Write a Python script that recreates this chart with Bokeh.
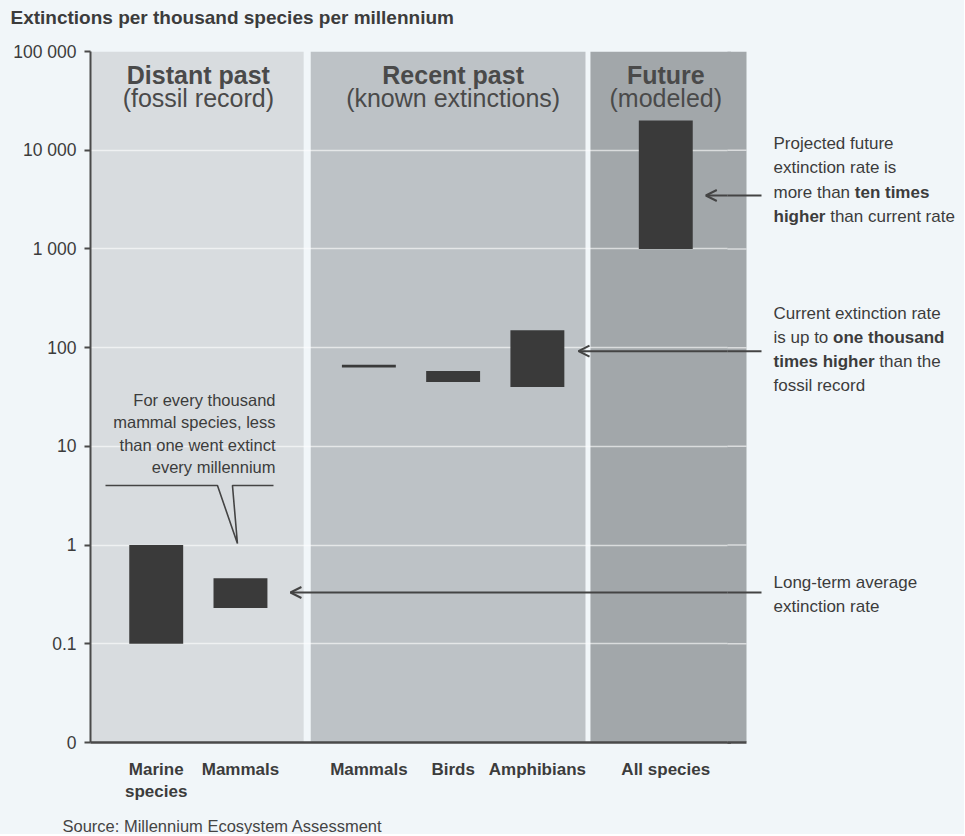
from bokeh.plotting import figure
from bokeh.layouts import row, column
from bokeh.models import FactorRange, Range1d, FixedTicker, Label, Arrow, OpenHead, ColumnDataSource
from bokeh.core.properties import value
from bokeh.embed import file_html
from bokeh.resources import INLINE

# ---------------- data ----------------
groups = ["Distant past", "Recent past", "Future"]
group_subtitles = ["(fossil record)", "(known extinctions)", "(modeled)"]
bar_groups = ["Distant past", "Distant past", "Recent past", "Recent past", "Recent past", "Future"]
bar_names = ["Marine\nspecies", "Mammals", "Mammals", "Birds", "Amphibians", "All species"]
rate_low = [0.1, 0.23, 63, 45, 40, 1000]
rate_high = [1.0, 0.46, 67, 58, 150, 20000]
tick_values = [0.01, 0.1, 1, 10, 100, 1000, 10000, 100000]
tick_labels = ["0", "0.1", "1", "10", "100", "1 000", "10 000", "100 000"]

title_text = "Extinctions per thousand species per millennium"
source_text = "Source: Millennium Ecosystem Assessment"
callout_lines = ["For every thousand", "mammal species, less", "than one went extinct", "every millennium"]
note_future = [[("Projected future", False)], [("extinction rate is", False)],
               [("more than ", False), ("ten times", True)],
               [("higher ", True), ("than current rate", False)]]
note_current = [[("Current extinction rate", False)], [("is up to ", False), ("one thousand", True)],
                [("times higher ", True), ("than the", False)], [("fossil record", False)]]
note_longterm = [[("Long-term average", False)], [("extinction rate", False)]]

# ---------------- style / layout ----------------
BG = "#f1f6f9"
PANEL_COLORS = ["#d8dcdf", "#bdc2c6", "#a2a7aa"]
BAR = "#3a3a3a"
TXT = "#3c3c3c"
LINE = "#444444"
FONT = "Liberation Sans"
PAGE_W = 964
HEADER_H, FOOTER_H = 32, 26
FRAME_TOP = 51                      # page row of the 100 000 line
TOP = FRAME_TOP - HEADER_H
FRAME_H, BOTTOM = 691, 66
LEFT, FRAME_W = 90, 641
OVERLAP = 4
NOTES_W = PAGE_W - LEFT - FRAME_W   # visible width of the notes strip
NOTES_FW = NOTES_W + OVERLAP - 8


def ypx(page_y):
    """vertical layout helper: page pixel row -> log-axis value"""
    return 10 ** (5 - (page_y - FRAME_TOP) / (FRAME_H / 7.0))


REG = dict(zip(" abcdefghijklmnopqrstuvwxyz-,", [278, 556, 556, 500, 556, 556, 278, 556, 556, 222, 222, 500, 222, 833,
                                                 556, 556, 556, 556, 333, 500, 278, 556, 500, 722, 500, 500, 500, 333, 278]))
BOLD = dict(zip(" abcdefghijklmnopqrstuvwxyz-,", [278, 556, 611, 556, 611, 556, 333, 611, 611, 278, 278, 556, 278, 889,
                                                  611, 611, 611, 611, 389, 556, 333, 611, 556, 778, 556, 556, 500, 333, 278]))


def text_w(s, size, bold=False):
    t = BOLD if bold else REG
    return sum(t.get(c, 600) for c in s) * size / 1000.0


def plain_fig(w, h, xr, yr, **kw):
    f = figure(frame_width=w, frame_height=h, x_range=xr, y_range=yr, min_border=0,
               x_axis_location=None, y_axis_location=None, output_backend="svg", toolbar_location=None,
               background_fill_color=BG, border_fill_color=BG, outline_line_color=None, **kw)
    f.grid.grid_line_color = None
    return f


# ================= header (title) =================
header = plain_fig(PAGE_W, HEADER_H, Range1d(0, PAGE_W), Range1d(HEADER_H, 0))
header.text(x=[10], y=[17], text=[title_text], text_baseline="middle", text_font=value(FONT),
            text_font_style="bold", text_font_size="19px", text_color=TXT)

factors = list(zip(bar_groups, bar_names))

# ================= main chart =================
p = figure(x_range=FactorRange(*factors, factor_padding=0, group_padding=0.524,
                               range_padding=0.28, range_padding_units="absolute"),
           y_axis_type="log", y_range=Range1d(0.01, 100000),
           frame_width=FRAME_W, frame_height=FRAME_H,
           min_border_left=LEFT, min_border_right=0, min_border_top=TOP, min_border_bottom=BOTTOM,
           output_backend="svg", toolbar_location=None,
           background_fill_color=BG, border_fill_color=BG, outline_line_color=None)
p.title.text = ""

# panels
p.quad(left=[("Distant past", "Marine\nspecies", -1.2), ("Recent past", "Mammals", -0.69), ("Future", "All species", -0.894)],
       right=[("Distant past", "Mammals", 0.75), ("Recent past", "Amphibians", 0.571), ("Future", "All species", 1.5)],
       bottom=0.01, top=100000, fill_color=PANEL_COLORS, line_color=None, level="image")

# bars
p.vbar(x=factors, bottom=rate_low, top=rate_high, width=0.64, fill_color=BAR, line_color=None)

# panel titles
p.text(x=groups, y=[ypx(74)] * 3, text=groups, text_align="center", text_baseline="middle",
       text_font=value(FONT), text_font_style="bold", text_font_size="25px", text_color="#4a4a4a")
p.text(x=groups, y=[ypx(97)] * 3, text=group_subtitles, text_align="center", text_baseline="middle",
       text_font=value(FONT), text_font_size="25px", text_color="#4a4a4a")

# callout bubble
p.line(x=[("Distant past", "Marine\nspecies", -0.602), ("Distant past", "Mammals", -0.273),
          ("Distant past", "Mammals", -0.036), ("Distant past", "Mammals", -0.095), ("Distant past", "Mammals", 0.392)],
       y=[ypx(485), ypx(485), ypx(543), ypx(485), ypx(485)], line_color=LINE, line_width=1.6)
for t, ry in zip(callout_lines, [399, 421, 444, 466]):
    p.add_layout(Label(x=275 - LEFT, x_units="screen", y=ypx(ry), text=t, text_align="right", text_baseline="middle",
                       text_font=FONT, text_font_size="16.5px", text_color=TXT))

# arrows (the part inside the chart frame)
arrow_rows = [195, 350.7, 592]
arrow_src = ColumnDataSource(dict(
    x0=[("Future", "All species", 1.6)] * 3,
    x1=[("Future", "All species", 0.475), ("Recent past", "Amphibians", 0.488), ("Distant past", "Mammals", 0.593)],
    y0=[ypx(r) for r in arrow_rows],
    y1=[ypx(r) for r in arrow_rows]))
p.add_layout(Arrow(source=arrow_src, x_start="x0", y_start="y0", x_end="x1", y_end="y1",
                   line_color=LINE, line_width=2,
                   end=OpenHead(size=11, line_width=2, line_color=LINE)))

# axes
p.yaxis.ticker = FixedTicker(ticks=tick_values, minor_ticks=[])
p.yaxis.major_label_overrides = {float(v): l for v, l in zip(tick_values, tick_labels)}
p.yaxis.major_label_text_font = FONT
p.yaxis.major_label_text_font_size = "17.5px"
p.yaxis.major_label_text_color = TXT
p.yaxis.axis_line_color = "#4a4a4a"
p.yaxis.axis_line_width = 2
p.yaxis.major_tick_line_color = "#4a4a4a"
p.yaxis.major_tick_line_width = 2
p.yaxis.major_tick_out = 6
p.yaxis.major_tick_in = 0
p.yaxis.minor_tick_line_color = None
p.yaxis.major_label_standoff = 8

p.xaxis.axis_line_color = "#4a4a4a"
p.xaxis.axis_line_width = 2.5
p.xaxis.major_tick_line_color = None
p.xaxis.minor_tick_line_color = None
p.xaxis.major_label_text_font = FONT
p.xaxis.major_label_text_font_style = "bold"
p.xaxis.major_label_text_font_size = "17px"
p.xaxis.major_label_text_color = TXT
p.xaxis.major_label_standoff = 11
p.xaxis.group_text_color = None
p.xaxis.group_text_font_size = "1px"
p.xaxis.separator_line_color = None

p.xgrid.grid_line_color = None
p.ygrid.grid_line_color = "white"
p.ygrid.grid_line_alpha = 0.6
p.ygrid.grid_line_width = 1.5

# ================= notes strip (right, transparent so it blends with the chart) =================
n = figure(x_range=Range1d(-OVERLAP, NOTES_FW - OVERLAP), y_axis_type="log", y_range=Range1d(0.01, 100000),
           frame_width=NOTES_FW, frame_height=FRAME_H,
           min_border_left=0, min_border_right=0, min_border_top=TOP, min_border_bottom=BOTTOM,
           output_backend="svg", toolbar_location=None, y_axis_location=None,
           background_fill_color=None, border_fill_color=None, outline_line_color=None,
           styles={"margin-left": f"-{OVERLAP}px"})
n.grid.grid_line_color = None
PANEL_TAIL = 15     # continuation of the "Future" panel
n.xaxis.bounds = (-OVERLAP, PANEL_TAIL)
n.xaxis.axis_line_color = "#4a4a4a"
n.xaxis.axis_line_width = 2.5
n.xaxis.major_tick_line_color = None
n.xaxis.minor_tick_line_color = None
n.xaxis.major_label_text_color = None

n.quad(left=-OVERLAP - 1, right=PANEL_TAIL, bottom=0.01, top=100000, fill_color=PANEL_COLORS[2],
       line_color=None, level="image")
n.segment(x0=-OVERLAP - 1, x1=PANEL_TAIL, y0=tick_values[1:-1], y1=tick_values[1:-1],
          line_color="white", line_alpha=0.6, line_width=1.5)
ARROW_TAIL = 30
n.segment(x0=-OVERLAP - 1, x1=ARROW_TAIL, y0=[ypx(r) for r in arrow_rows], y1=[ypx(r) for r in arrow_rows],
          line_color=LINE, line_width=2)

NOTE_X = 773 - LEFT - FRAME_W


def note(lines, rows, size=17):
    for segs, ry in zip(lines, rows):
        cx = NOTE_X
        for s, b in segs:
            n.text(x=[cx], y=[ypx(ry)], text=[s.strip()], text_baseline="middle",
                   text_font=value(FONT), text_font_size=f"{size}px",
                   text_font_style="bold" if b else "normal", text_color=TXT)
            cx += text_w(s, size, b)


note(note_future, [143, 167, 192, 216])
note(note_current, [313, 337, 361, 385])
note(note_longterm, [582, 606])

# ================= footer (source) =================
footer = plain_fig(PAGE_W, FOOTER_H, Range1d(0, PAGE_W), Range1d(FOOTER_H, 0))
footer.text(x=[62], y=[17], text=[source_text], text_baseline="middle", text_font=value(FONT),
            text_font_size="16.5px", text_color=LINE)

layout = column(header, row(p, n, styles={"background-color": BG}), footer,
                styles={"background-color": BG})
open("out.html", "w").write(file_html(layout, INLINE))
